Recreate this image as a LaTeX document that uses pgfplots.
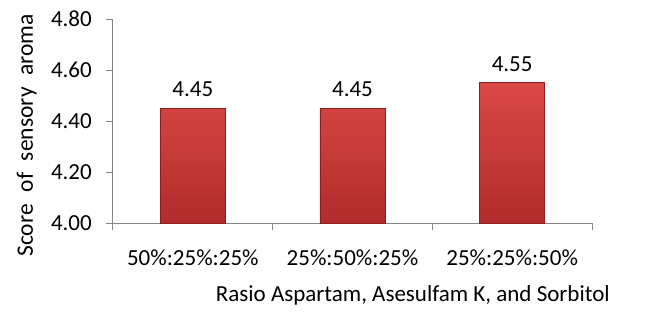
\documentclass[border=0pt]{standalone}
\usepackage{fontspec}
\setmainfont{Carlito}
\usepackage{pgfplots}
\pgfplotsset{compat=1.18}
\definecolor{axisgray}{RGB}{134,134,134}
\definecolor{bartop}{RGB}{218,72,68}
\definecolor{barbot}{RGB}{178,44,42}
\definecolor{baredge}{RGB}{140,30,30}
\begin{document}
\begin{tikzpicture}
\useasboundingbox (-113pt,-102pt) rectangle (552pt,223pt);
\begin{axis}[
  at={(0,0)}, anchor=south west,
  scale only axis, width=479pt, height=204pt,
  xmin=-0.5, xmax=2.5, ymin=4, ymax=4.8,
  axis x line*=bottom, axis y line*=left,
  axis line style={axisgray, line width=1pt},
  tick align=outside,
  major tick length=7pt,
  tick style={axisgray, line width=1pt},
  ytick={4,4.2,4.4,4.6,4.8},
  yticklabel style={/pgf/number format/fixed, /pgf/number format/precision=2, /pgf/number format/fixed zerofill, inner sep=0pt, anchor=east, xshift=-14pt},
  /pgf/number format/assume math mode=true,
  xtick={-0.5,0.5,1.5,2.5},
  x tick label as interval,
  xticklabels={50\%:25\%:25\%, 25\%:50\%:25\%, 25\%:25\%:50\%},
  xticklabel style={inner sep=0pt, anchor=north, yshift=-20pt},
  every tick label/.append style={font=\fontsize{23}{27}\selectfont},
  xlabel={Rasio Aspartam, Asesulfam K, and Sorbitol},
  xlabel style={font=\fontsize{23}{27}\selectfont, at={(axis description cs:0.626,0)}, anchor=north, inner sep=0pt, yshift=-62pt},
  ylabel={Score\hspace{0.5em}of\hspace{0.5em}sensory\hspace{0.5em}aroma},
  ylabel style={font=\fontsize{23.5}{27}\selectfont, at={(axis description cs:-0.1587,0.43)}, anchor=south, inner sep=0pt},
  ybar, bar width=65pt,
  nodes near coords,
  nodes near coords style={font=\fontsize{23}{27}\selectfont, /pgf/number format/fixed, /pgf/number format/precision=2, /pgf/number format/fixed zerofill, anchor=south, inner sep=0pt, yshift=11pt, text=black},
]
\addplot[ybar, bar width=65pt, top color=bartop, bottom color=barbot, draw=baredge, line width=0.6pt] coordinates {(0,4.45) (1,4.45) (2,4.55)};
\end{axis}
\end{tikzpicture}
\end{document}
